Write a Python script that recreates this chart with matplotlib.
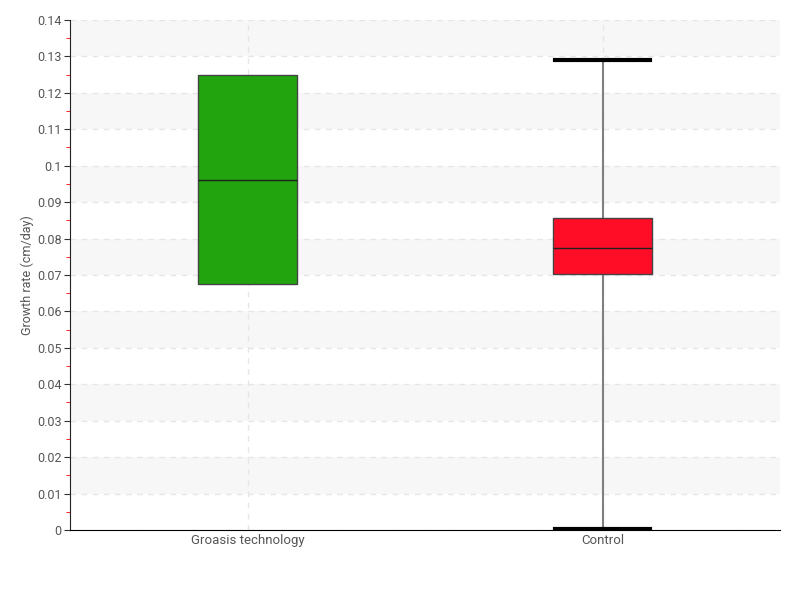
import matplotlib
matplotlib.use("Agg")
import matplotlib.pyplot as plt
import numpy as np

categories = ["Groasis technology", "Control"]
q1 = [0.0675, 0.0703]
med = [0.0962, 0.0774]
q3 = [0.1249, 0.0856]
whislo = [0.0675, 0.0003]
whishi = [0.1249, 0.1291]
colors = ["#22a40e", "#ff0d26"]
yticks = [0, 0.01, 0.02, 0.03, 0.04, 0.05, 0.06, 0.07, 0.08, 0.09, 0.1, 0.11, 0.12, 0.13, 0.14]
ytick_labels = ["0", "0.01", "0.02", "0.03", "0.04", "0.05", "0.06", "0.07", "0.08", "0.09", "0.1", "0.11", "0.12", "0.13", "0.14"]

plt.rcParams['font.family'] = ['Roboto', 'DejaVu Sans']

fig = plt.figure(figsize=(8, 6), dpi=100)
ax = fig.add_axes([0.0875, 0.1167, 0.8875, 0.85])

# alternating bands
for i in range(len(yticks) - 1):
    if i % 2 == 1:
        ax.axhspan(yticks[i], yticks[i + 1], color="#f7f7f7", zorder=0, lw=0)

stats = []
for i, c in enumerate(categories):
    stats.append(dict(label=c, q1=q1[i], med=med[i], q3=q3[i], whislo=whislo[i], whishi=whishi[i], fliers=[]))

bp = ax.bxp(stats, positions=range(len(categories)), widths=0.28, patch_artist=True, showfliers=False,
            boxprops=dict(edgecolor="#444444", linewidth=1),
            medianprops=dict(color="#222222", linewidth=1),
            whiskerprops=dict(color="#808080", linewidth=1.5),
            capprops=dict(color="#000000", linewidth=3), capwidths=0.27)
for patch, col in zip(bp['boxes'], colors):
    patch.set_facecolor(col)
    patch.set_zorder(3)
for m in bp['medians']:
    m.set_zorder(4)
# Groasis box has no whiskers
bp['caps'][0].set_visible(False)
bp['caps'][1].set_visible(False)

ax.set_xlim(-0.5, 1.5)
ax.set_ylim(0, 0.14)
ax.set_yticks(yticks)
ax.set_yticklabels(ytick_labels)
ax.set_yticks(np.arange(0.005, 0.14, 0.01), minor=True)
ax.tick_params(axis='y', which='major', length=4, color="#333333", labelcolor="#555555", labelsize=9, pad=2)
ax.tick_params(axis='y', which='minor', length=3, color="#ff0000")
ax.tick_params(axis='x', length=0, labelcolor="#555555", labelsize=9.5, pad=3)
ax.set_xticks(range(len(categories)))
ax.set_xticklabels(categories)

ax.grid(True, axis='both', which='major', linestyle=(0, (4, 4)), color="#e6e6e6", linewidth=1, zorder=1)
ax.set_axisbelow(True)

for s in ["top", "right"]:
    ax.spines[s].set_visible(False)
ax.spines["left"].set_color("#222222")
ax.spines["bottom"].set_color("#000000")

ax.set_ylabel("Growth rate (cm/day)", color="#555555", fontsize=9)
ax.yaxis.set_label_coords(-0.05, 0.5)

fig.savefig("out.png", dpi=100)
